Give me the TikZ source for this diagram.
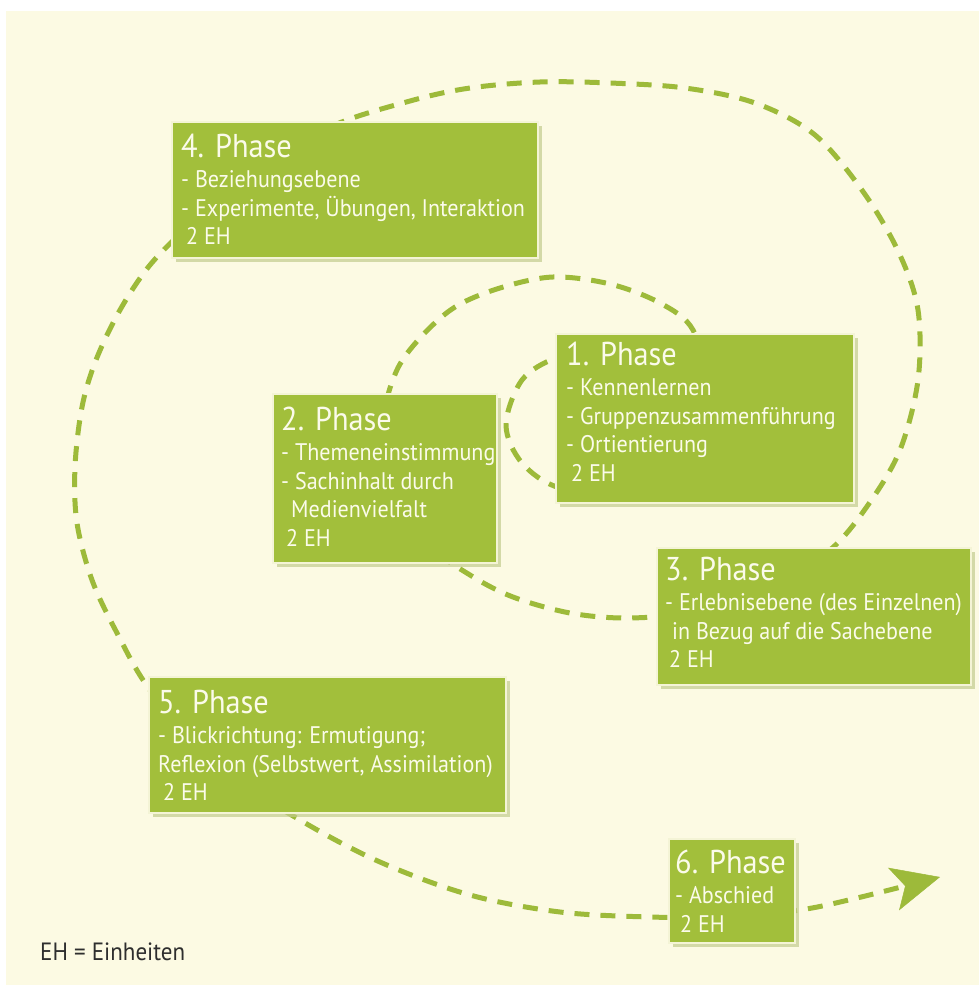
\documentclass[tikz,border=0pt]{standalone}
\usepackage{fontspec}
\setmainfont{PT Sans}[FakeStretch=0.92]
\usetikzlibrary{shadows,arrows.meta}
\definecolor{bg}{HTML}{FCFAE3}
\definecolor{boxg}{HTML}{A2BF3B}
\definecolor{dashg}{HTML}{9DBA3A}
\definecolor{txt}{HTML}{FBFBEA}
\definecolor{edge}{HTML}{F4F4D6}
\definecolor{shad}{HTML}{C3CB8E}
\definecolor{note}{HTML}{2E2E2E}
\newcommand\phasetxt[2]{\parbox[t]{420pt}{\raggedright\fontsize{33}{33}\selectfont #1\par\vspace{2pt}\fontsize{24}{28.5}\selectfont #2}}
\begin{document}
\begin{tikzpicture}[x=1pt,y=-1pt,
  phase/.style={draw=edge, line width=1.5pt, fill=boxg, anchor=north west, inner sep=0pt,
    drop shadow={shadow xshift=4pt, shadow yshift=-4pt, fill=shad, opacity=0.7}},
  ptext/.style={anchor=base west, inner sep=0pt, text=txt},
  spiral/.style={draw=dashg, line width=5pt, dash pattern=on 15pt off 11pt}
]
\useasboundingbox (0,0) rectangle (979,990);
\fill[white] (0,0) rectangle (979,990);
\fill[bg] (6,11) rectangle (979,985);

\draw[spiral, -{Stealth[length=48pt, width=44pt, inset=12pt, line width=0.5pt]}]
  plot[smooth, tension=0.55] coordinates {
  (598,352) (556,358) (522,380) (506,425) (522,463) (560,488) (630,495) (690,460)
  (708,390) (693,330) (660,303) (610,284) (553,277) (500,288) (455,307) (420,338)
  (396,372) (385,420) (400,490) (430,545) (470,575) (513,597) (570,613) (627,618)
  (690,612) (770,588) (830,550) (868,505) (900,450) (918,380) (918,310) (899,253)
  (864,193) (815,135) (755,103) (685,88) (610,83) (540,82) (470,88) (410,101)
  (330,127) (250,175) (190,225) (150,265) (120,310) (96,360) (82,407) (75,467)
  (77,523) (92,580) (117,633) (150,690) (215,765) (300,820) (380,862) (470,895)
  (560,912) (650,917) (730,917) (800,910) (857,898) (940,877)};

% boxes
\node[phase, minimum width=298pt, minimum height=169pt] (p1) at (555,333) {};
\node[phase, minimum width=224pt, minimum height=169pt] (p2) at (272,393) {};
\node[phase, minimum width=314pt, minimum height=137pt] (p3) at (656,547) {};
\node[phase, minimum width=366pt, minimum height=136pt] (p4) at (171,121) {};
\node[phase, minimum width=357pt, minimum height=136pt] (p5) at (148,676) {};
\node[phase, minimum width=126pt, minimum height=104pt] (p6) at (668,838) {};

% texts
\node[ptext] (t1) at (566,365) {\phasetxt{1. Phase}{- Kennenlernen\par - Gruppenzusammenführung\par - Ortientierung\par \hspace*{5pt}2 EH}};
\node[ptext] (t2) at (281,430) {\phasetxt{2. Phase}{- Themeneinstimmung\par - Sachinhalt durch\par \hspace*{10pt}Medienvielfalt\par \hspace*{5pt}2 EH}};
\node[ptext] (t3) at (665,580) {\phasetxt{3. Phase}{- Erlebnisebene (des Einzelnen)\par \hspace*{7pt}in Bezug auf die Sachebene\par \hspace*{4pt}2 EH}};
\node[ptext] (t4) at (181,157) {\phasetxt{4. Phase}{- Beziehungsebene\par - Experimente, Übungen, Interaktion\par \hspace*{5pt}2 EH}};
\node[ptext] (t5) at (158,713) {\phasetxt{5. Phase}{- Blickrichtung: Ermutigung;\par Reflexion (Selbstwert, Assimilation)\par \hspace*{5pt}2 EH}};
\node[ptext] (t6) at (675,873) {\phasetxt{6. Phase}{- Abschied\par \hspace*{5pt}2 EH}};

\node[anchor=base west, inner sep=0pt, text=note] (legend) at (40,960) {\fontsize{25}{28}\selectfont EH = Einheiten};
\end{tikzpicture}
\end{document}
